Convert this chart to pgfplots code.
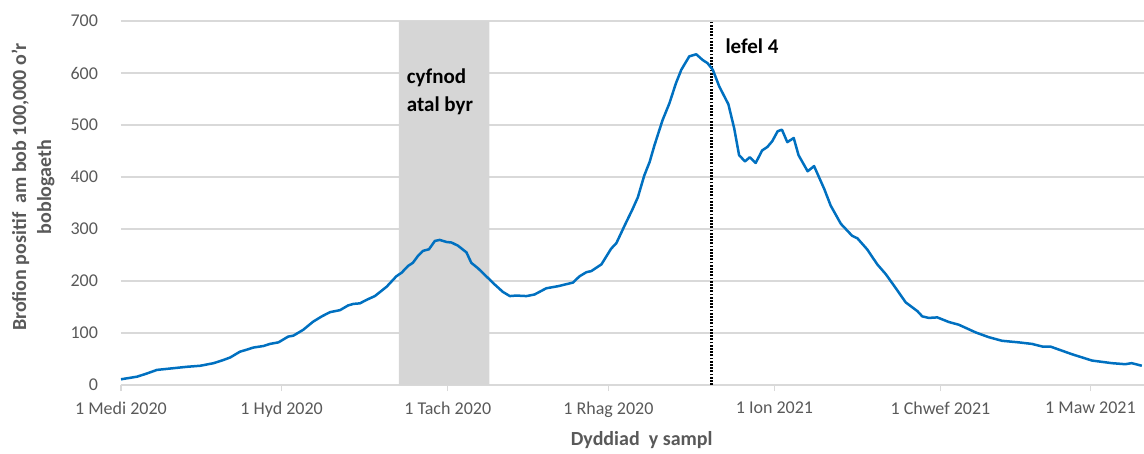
\documentclass[border=0pt]{standalone}
\usepackage{fontspec}
\setmainfont{Carlito}
\usepackage{pgfplots}
\pgfplotsset{compat=1.18}
\definecolor{lineblue}{HTML}{0070C0}
\definecolor{gridgray}{HTML}{D9D9D9}
\definecolor{shade}{HTML}{D6D6D6}
\definecolor{txtgray}{HTML}{595959}
\begin{document}
\begin{tikzpicture}
\path[use as bounding box] (-60.5pt,-34.5pt) rectangle (511.5pt,192.5pt);
\begin{axis}[
  at={(0,0)}, anchor=south west,
  scale only axis, width=511.5pt, height=182pt,
  xmin=0, xmax=191, ymin=0, ymax=700,
  separate axis lines,
  axis x line*=bottom, axis y line*=left,
  x axis line style={gridgray, line width=0.6pt, -},
  y axis line style={draw=none},
  ytick={0,100,...,700},
  xtick={0,30,61,91,122,153,181},
  xticklabels={1 Medi 2020, 1 Hyd 2020, 1 Tach 2020, 1 Rhag 2020, 1 Ion 2021, 1 Chwef 2021, 1 Maw 2021},
  ymajorgrids, grid style={gridgray, line width=0.6pt},
  tick align=outside, major tick length=3pt,
  xtick style={gridgray, line width=0.6pt},
  ytick style={draw=none},
  /pgf/number format/assume math mode=true,
  ticklabel style={font=\fontsize{9}{11}\selectfont, text=txtgray},
  yticklabel style={anchor=east, xshift=-5pt},
  xticklabel style={yshift=-2pt},
  clip=false,
]
\addplot[fill=shade, draw=none] coordinates {(51.9,0) (51.9,700) (68.8,700) (68.8,0)} \closedcycle;
\addplot[black, line width=1.6pt, dash pattern=on 0.9pt off 0.7pt] coordinates {(110.2,0) (110.2,700)};
\addplot[lineblue, line width=1.25pt, line join=round] coordinates {
(0,11) (3,16) (4.8,22) (6.7,29) (9.5,32) (12.3,35) (14.8,37) (17.3,42) (19.1,48) (20.4,53)
(22.2,64) (23.5,68) (24.7,72) (26.6,75) (27.8,79) (29.4,82) (31.2,93) (32.2,95) (34,106)
(35.9,122) (37.5,132) (39,140) (40.9,144) (42.4,153) (43.4,156) (44.6,157) (45.9,164)
(47.4,171) (49.6,189) (51.4,209) (52.4,216) (53.6,229) (54.5,235) (55.5,249) (56.4,258)
(57.5,261) (58.6,277) (59.5,279) (60.8,275) (61.7,274) (62.9,268) (64.5,255) (65.4,235)
(66.7,224) (68.2,209) (69.8,193) (71.3,179) (72.6,171) (73.8,172) (75.7,171) (77.2,174)
(79.4,186) (81.6,190) (82.8,193) (84.4,197) (85.6,209) (86.9,217) (87.8,219) (89.7,232)
(91.5,262) (92.5,273) (94,306) (95.5,338) (96.5,361) (97.7,403) (98.7,429) (99.6,461)
(101.1,509) (102.4,542) (103.6,580) (104.6,606) (106.1,632) (107.4,636) (108.6,625)
(109.5,619) (110.5,606) (111.7,574) (113.4,540) (114.5,493) (115.4,442) (116.5,430)
(117.4,438) (118.5,427) (119.7,451) (120.7,458) (121.6,469) (122.6,488) (123.4,491)
(124.4,467) (125.6,475) (126.5,442) (128.2,411) (129.4,421) (131.3,377) (132.5,345)
(134.4,310) (136.5,287) (137.5,282) (139.3,261) (141.2,232) (142.8,213) (144.6,187)
(146.5,159) (148.7,142) (149.6,132) (150.8,129) (152.4,130) (154.6,121) (156.4,116)
(159.6,101) (162,92) (164.5,85) (167.6,82) (170.1,79) (172,74) (173.5,74) (177.6,59)
(181.3,47) (185,42) (187.5,40) (188.7,42) (190.6,37)
};
\node[font=\bfseries\fontsize{10.5}{14}\selectfont, align=left, anchor=west, inner sep=0pt, text=black] at (axis cs:53.3,563) {cyfnod\\atal byr};
\node[font=\bfseries\fontsize{10.5}{14}\selectfont, anchor=west, inner sep=0pt, text=black] at (axis cs:112.8,652) {lefel 4};
\node[font=\bfseries\fontsize{10}{12}\selectfont, text=txtgray] at (rel axis cs:0.509,0) [yshift=-27.5pt] {Dyddiad\ \ y sampl};
\node[xshift=-44pt, rotate=90, font=\bfseries\fontsize{10}{12.5}\selectfont, text=txtgray, align=center] at (rel axis cs:0,0.544) {Brofion positif\ \ am bob 100,000 o'r\\boblogaeth};
\end{axis}
\end{tikzpicture}
\end{document}
